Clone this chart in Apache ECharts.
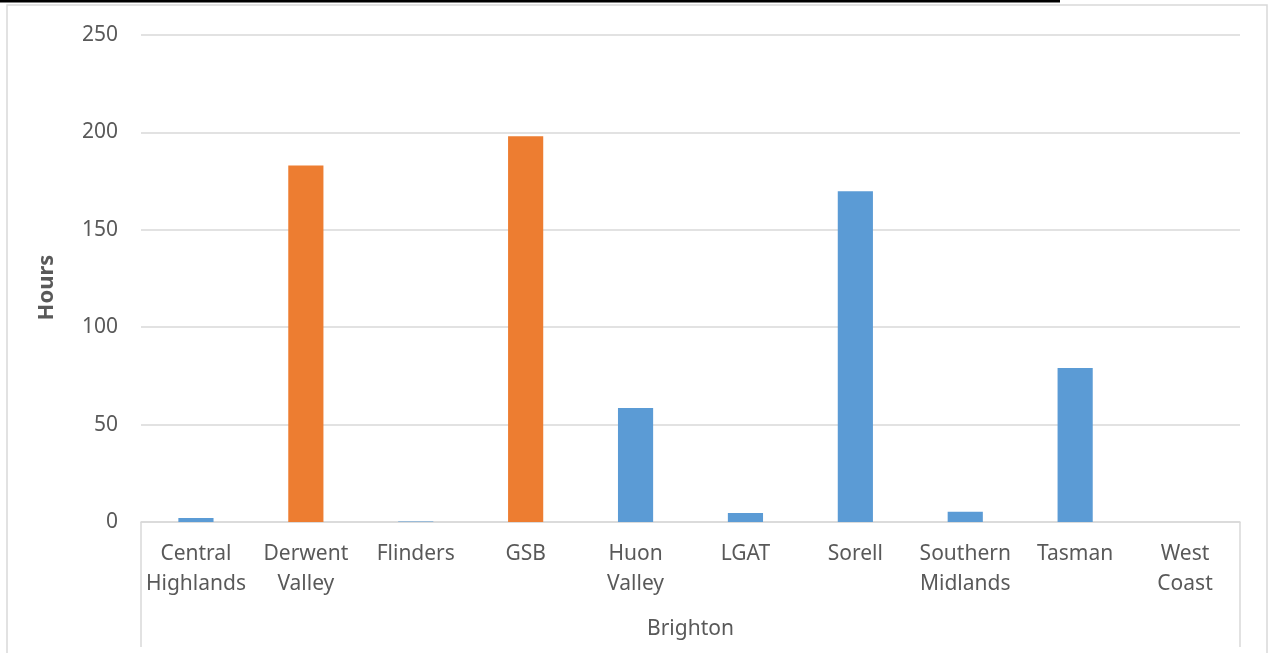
<!DOCTYPE html>
<html>
<head>
<meta charset="utf-8">
<script src="https://cdn.jsdelivr.net/npm/echarts@6/dist/echarts.min.js"></script>
<style>
html, body { margin: 0; padding: 0; background: #fff; }
#chart { width: 1269px; height: 653px; }
</style>
</head>
<body>
<div id="chart"></div>
<script>
var categories = ['Central\nHighlands', 'Derwent\nValley', 'Flinders', 'GSB', 'Huon\nValley',
                  'LGAT', 'Sorell', 'Southern\nMidlands', 'Tasman', 'West\nCoast'];
var hours = [2, 183, 0.3, 198, 58.5, 4.6, 169.8, 5.2, 79, 0];
// orange marks the two highlighted councils
var highlighted = ['Derwent\nValley', 'GSB'];
var groupLabel = ['Brighton'];
var yTicks = { min: 0, max: 250, interval: 50 };

var blue = '#5B9BD5', orange = '#ED7D31', grey = '#D9D9D9', textColor = '#595959';
var font = 'Noto Sans';

var chart = echarts.init(document.getElementById('chart'));
chart.setOption({
    animation: false,
    textStyle: { fontFamily: font },
    graphic: [
        { type: 'rect', shape: { x: 7, y: 5, width: 1260, height: 660 },
          style: { fill: 'none', stroke: grey, lineWidth: 1.5 }, silent: true },
        { type: 'line', shape: { x1: 0, y1: 1, x2: 1060, y2: 1 },
          style: { stroke: '#000', lineWidth: 3 }, silent: true }
    ],
    grid: { left: 141, right: 29, top: 35, bottom: 131 },
    xAxis: [
        {
            type: 'category',
            data: categories,
            axisLine: { lineStyle: { color: grey, width: 1.5 } },
            axisTick: { show: false },
            axisLabel: { color: textColor, fontSize: 21, lineHeight: 30, margin: 17, interval: 0 }
        },
        {
            type: 'category',
            position: 'bottom',
            data: groupLabel,
            axisLine: { show: false },
            axisTick: { show: true, length: 125, inside: false, lineStyle: { color: grey, width: 1.5 } },
            axisLabel: { color: textColor, fontSize: 21, margin: 97 }
        }
    ],
    yAxis: {
        type: 'value',
        min: yTicks.min,
        max: yTicks.max,
        interval: yTicks.interval,
        name: 'Hours',
        nameLocation: 'middle',
        nameGap: 83,
        nameTextStyle: { color: textColor, fontSize: 22, fontWeight: 'bold', padding: [0, 18, 0, 0] },
        axisLine: { show: false },
        axisTick: { show: false },
        axisLabel: { color: textColor, fontSize: 21, margin: 23 },
        splitLine: { lineStyle: { color: grey, width: 1.5 } }
    },
    series: [{
        type: 'bar',
        xAxisIndex: 0,
        barWidth: '32%',
        data: hours.map(function (v, i) {
            return {
                value: v,
                itemStyle: { color: highlighted.indexOf(categories[i]) >= 0 ? orange : blue }
            };
        })
    }]
});
</script>
</body>
</html>
